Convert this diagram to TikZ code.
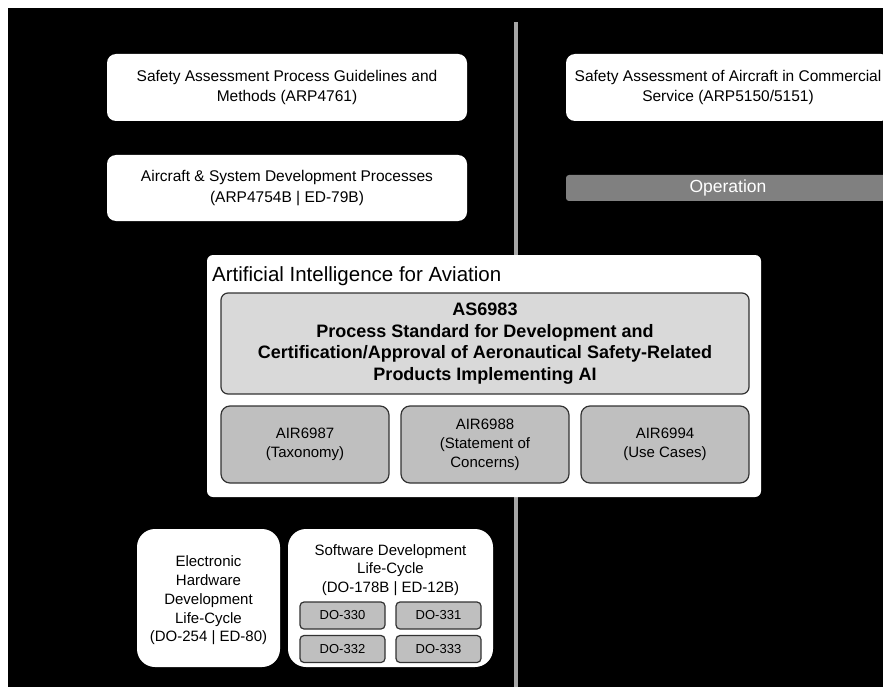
\documentclass[tikz,border=0pt]{standalone}
\usepackage{fontspec}
\setmainfont{Liberation Sans}
\usetikzlibrary{positioning}

\definecolor{opgray}{HTML}{808080}
\definecolor{asgray}{HTML}{D9D9D9}
\definecolor{airgray}{HTML}{BFBFBF}
\definecolor{divgray}{HTML}{A6A6A6}
\definecolor{edgegray}{HTML}{333333}

\tikzset{
  stdbox/.style={fill=white, rounded corners=9pt, align=center, inner sep=0pt, font=\fontsize{15.5}{20.5}\selectfont},
  lcbox/.style={fill=white, rounded corners=18pt, align=center, inner sep=0pt, minimum height=138pt, font=\fontsize{15}{18.8}\selectfont},
  airbox/.style={fill=airgray, draw=edgegray, line width=1.2pt, rounded corners=9pt, align=center, inner sep=0pt, minimum width=168pt, minimum height=77pt, font=\fontsize{15}{19}\selectfont},
  dobox/.style={fill=airgray, draw=edgegray, line width=1.2pt, rounded corners=4pt, inner sep=0pt, minimum width=85pt, minimum height=27pt, font=\fontsize{13}{15}\selectfont},
}

\begin{document}
\begin{tikzpicture}[x=1pt,y=-1pt]
                \useasboundingbox (0,0) rectangle (883,687);
                \clip (0,0) rectangle (883,687);
                \fill[white] (0,0) rectangle (883,687);
                \fill[black] (8,8) rectangle (883,687);

                % divider
                \draw[divgray, line width=4pt] (516,22) -- (516,687);

                \node[stdbox, minimum width=360pt, minimum height=67pt] (arp4761) at (287,87.5) {Safety Assessment Process Guidelines and\\Methods (ARP4761)};
                \node[stdbox, minimum width=324pt, minimum height=67pt] (arp5150) at (728,87.5) {Safety Assessment of Aircraft in Commercial\\Service (ARP5150/5151)};
                \node[stdbox, minimum width=360pt, minimum height=66pt] (arp4754) at (287,188) {Aircraft \& System Development Processes\\(ARP4754B | ED-79B)};
                \node[fill=opgray, rounded corners=3pt, text=white, inner sep=0pt, minimum width=324pt, minimum height=26pt, font=\fontsize{17.5}{20}\selectfont] (operation) at (728,188) {Operation};

                \node[fill=white, rounded corners=6pt, minimum width=554pt, minimum height=242pt, inner sep=0pt] (aibox) at (484,376) {};
                \node[anchor=base west, inner sep=0pt, font=\fontsize{20.5}{24}\selectfont] (aititle) at (212,281) {Artificial Intelligence for Aviation};
                \node[fill=asgray, draw=edgegray, line width=1.2pt, rounded corners=7pt, align=center, inner sep=0pt, minimum width=528pt, minimum height=101pt, font=\fontsize{18}{21.5}\selectfont\bfseries] (as6983) at (485,343.5) {AS6983\\Process Standard for Development and\\Certification/Approval of Aeronautical Safety-Related\\Products Implementing AI};
                \node[airbox] (air6987) at (305,444.5) {AIR6987\\(Taxonomy)};
                \node[airbox] (air6988) at (485,444.5) {AIR6988\\(Statement of\\Concerns)};
                \node[airbox] (air6994) at (665,444.5) {AIR6994\\(Use Cases)};

                \node[lcbox, minimum width=143pt] (ehdlc) at (208.5,598) {};
                \node[align=center, inner sep=0pt, font=\fontsize{15}{18.8}\selectfont] (ehtitle) at (208.5,600.5) {Electronic\\Hardware\\Development\\Life-Cycle\\(DO-254 | ED-80)};
                \node[lcbox, minimum width=205pt] (swlc) at (390.5,598) {};
                \node[below=15.5pt of swlc.north, align=center, inner sep=0pt, font=\fontsize{15}{18.5}\selectfont] (swtitle) {Software Development\\Life-Cycle\\(DO-178B | ED-12B)};

                \node[dobox] (do330) at (342.5,615.5) {DO-330};
                \node[dobox] (do331) at (438.5,615.5) {DO-331};
                \node[dobox] (do332) at (342.5,649) {DO-332};
                \node[dobox] (do333) at (438.5,649) {DO-333};
            \end{tikzpicture}
\end{document}
